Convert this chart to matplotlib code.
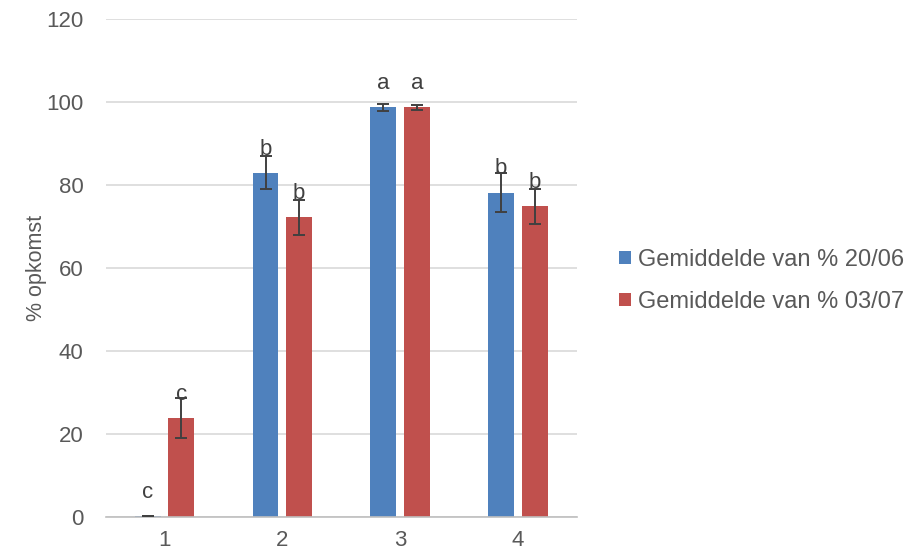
import matplotlib.pyplot as plt
import numpy as np

plt.rcParams['font.family'] = ['Liberation Sans', 'DejaVu Sans']

# data
categories = ['1', '2', '3', '4']
series_names = ['Gemiddelde van % 20/06', 'Gemiddelde van % 03/07']
mean_2006 = [0.3, 83.0, 98.7, 78.2]
mean_0307 = [23.9, 72.2, 98.8, 74.9]
err_2006 = [0.0, 4.0, 0.8, 4.8]
err_0307 = [4.8, 4.2, 0.6, 4.2]
letters_2006 = ['c', 'b', 'a', 'b']
letters_0307 = ['c', 'b', 'a', 'b']

colors = ['#4F81BD', '#C0504D']
text_color = '#595959'

fig = plt.figure(figsize=(9.07, 5.53), dpi=100)
ax = fig.add_axes([0.1165, 0.065, 0.5195, 0.9005])

x = np.arange(len(categories))
width = 0.22
offset = 0.143

series = [(mean_2006, err_2006, letters_2006), (mean_0307, err_0307, letters_0307)]
for i, (vals, errs, letters) in enumerate(series):
    pos = x + (i * 2 - 1) * offset
    ax.bar(pos, vals, width, color=colors[i], label=series_names[i], zorder=2)
    ax.errorbar(pos, vals, yerr=errs, fmt='none', ecolor='#404040',
                elinewidth=1.4, capsize=4.3, capthick=1.4, zorder=3)
    for p, v, lt in zip(pos, vals, letters):
        ax.annotate(lt, (p, v), xytext=(0, 13), textcoords='offset points',
                    ha='center', va='baseline', fontsize=16, color='#404040',
                    zorder=4)

ax.set_ylim(0, 120)
ax.set_xlim(-0.5, len(categories) - 0.5)
ax.set_yticks(np.arange(0, 121, 20))
ax.set_xticks(x)
ax.set_xticklabels(categories)
ax.grid(axis='y', color='#d9d9d9', linewidth=1.2, zorder=0)
ax.set_axisbelow(True)

for s in ['top', 'right', 'left']:
    ax.spines[s].set_visible(False)
ax.spines['bottom'].set_color('#bfbfbf')
ax.spines['bottom'].set_linewidth(1.2)

ax.tick_params(axis='y', length=0, pad=16, labelsize=16, labelcolor=text_color)
ax.tick_params(axis='x', length=0, pad=9, labelsize=16, labelcolor=text_color)

ax.set_ylabel('% opkomst', fontsize=15.5, color=text_color)
ax.yaxis.set_label_coords(-0.125, 0.5)

fig.legend(loc='center left', bbox_to_anchor=(0.659, 0.492), frameon=False,
           fontsize=17, labelcolor=text_color, handlelength=0.5,
           handleheight=0.5, handletextpad=0.3, labelspacing=0.85)

fig.savefig('out.png', dpi=100)
